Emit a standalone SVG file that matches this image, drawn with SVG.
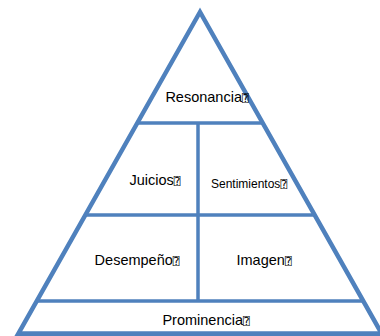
<svg xmlns="http://www.w3.org/2000/svg" width="380" height="336" viewBox="0 0 380 336">
<style>
.ln{stroke:#4F81BD;stroke-width:4.5;fill:none;stroke-linejoin:miter}
.dv{stroke:#4F81BD;stroke-width:3.5;fill:none}
.t{font-family:"Liberation Sans","DejaVu Sans",sans-serif;font-size:14.5px;fill:#000;text-anchor:middle}
.s{font-size:12px}
.q{font-family:"DejaVu Sans Mono","DejaVu Sans",sans-serif;font-size:11px}
</style>
<rect width="380" height="336" fill="#fff"/>
<g id="pyramid">
<polygon class="ln" points="200,12 17,336 383,336"/>
<line class="dv" x1="138" y1="123" x2="262" y2="123"/>
<line class="dv" x1="86" y1="215" x2="314" y2="215"/>
<line class="dv" x1="38" y1="301" x2="362" y2="301"/>
<line class="dv" x1="20" y1="333" x2="380" y2="333"/>
<line class="dv" x1="198" y1="123" x2="198" y2="301"/>
</g>
<g id="resonancia"><text class="t" x="207" y="102">Resonancia<tspan class="q">⍰</tspan></text></g>
<g id="juicios"><text class="t" x="155" y="185">Juicios<tspan class="q">⍰</tspan></text></g>
<g id="sentimientos"><text class="t s" x="249" y="188">Sentimientos<tspan class="q">⍰</tspan></text></g>
<g id="desempeno"><text class="t" x="137" y="265">Desempeño<tspan class="q">⍰</tspan></text></g>
<g id="imagen"><text class="t" x="264" y="265">Imagen<tspan class="q">⍰</tspan></text></g>
<g id="prominencia"><text class="t" x="206" y="325">Prominencia<tspan class="q">⍰</tspan></text></g>
</svg>
